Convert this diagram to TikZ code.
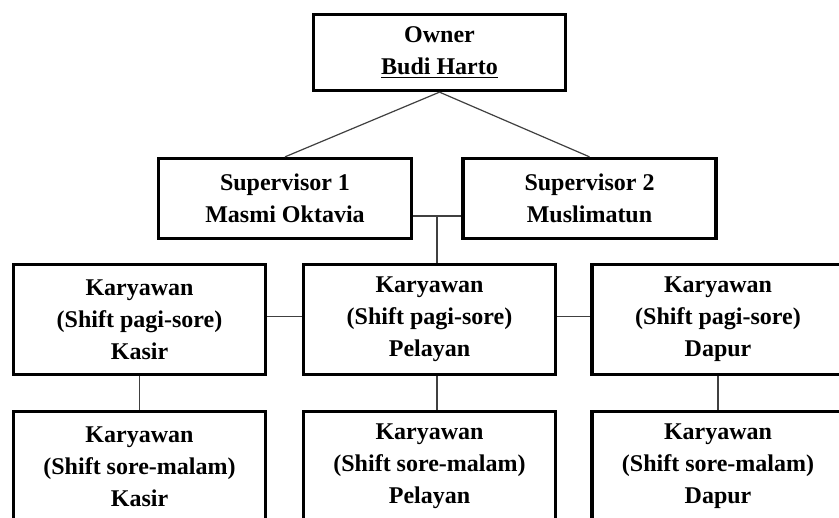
\documentclass[tikz,border=0pt]{standalone}
\usepackage{fontspec}
\setmainfont{Liberation Serif}
\usetikzlibrary{calc}

\begin{document}
\begin{tikzpicture}[
        x=0.5pt, y=-0.5pt, % One unit is one pixel of the chart, y runs downwards
        % Define a style for the boxes of the chart
        org_box/.style={draw, line width=1.65pt, fill=white, align=center, inner sep=0pt,
            font=\fontsize{12}{16}\selectfont\bfseries, minimum width=126pt},
        % Define a style for the thin lines between the boxes
        link_line/.style={draw=black!75, line width=0.6pt}
    ]

    % Fix the size of the page and cut off what runs over it
    \fill[white] (0,0) rectangle (839,518);
    \useasboundingbox (0,0) rectangle (839,518);
    \clip (0,0) rectangle (839,518);

    % Top of the chart
    \node[org_box, minimum height=38pt] (owner) at (439.5,52.5) {Owner\\\underline{Budi Harto}};

    % Supervisors
    \node[org_box, minimum width=126.5pt, minimum height=40pt] (sup_one) at (285,198.5) {Supervisor 1\\Masmi Oktavia};
    \node[org_box, minimum width=126.5pt, minimum height=40pt] (sup_two) at (589.5,198.5) {Supervisor 2\\Muslimatun};
    \coordinate (hub) at (437,216);

    % Staff in two shifts, one column for each job
    \foreach \name/\xc/\job in {kasir/139.5/Kasir, pelayan/429.5/Pelayan, dapur/718/Dapur}
    {
        \node[org_box, minimum height=55pt] (\name_pagi) at (\xc,319.5) {Karyawan\\(Shift pagi-sore)\\\job};
        \node[org_box, minimum height=55pt] (\name_malam) at (\xc,466.5) {Karyawan\\(Shift sore-malam)\\\job};
    }

    % Owner to supervisors
    \draw[link_line] (owner.south) -- (sup_one.north);
    \draw[link_line] (owner.south) -- (sup_two.north);

    % Supervisors to the staff
    \draw[link_line] (sup_one.east |- hub) -- (sup_two.west |- hub);
    \draw[link_line] (hub) -- (hub |- pelayan_pagi.north);
    \draw[link_line] ([yshift=1.5pt]kasir_pagi.east) -- ([yshift=1.5pt]pelayan_pagi.west);
    \draw[link_line] ([yshift=1.5pt]pelayan_pagi.east) -- ([yshift=1.5pt]dapur_pagi.west);

    % Morning shift to evening shift
    \draw[link_line] (kasir_pagi.south) -- (kasir_malam.north);
    \draw[link_line] (hub |- pelayan_pagi.south) -- (hub |- pelayan_malam.north);
    \draw[link_line] (dapur_pagi.south) -- (dapur_malam.north);

\end{tikzpicture}
\end{document}
